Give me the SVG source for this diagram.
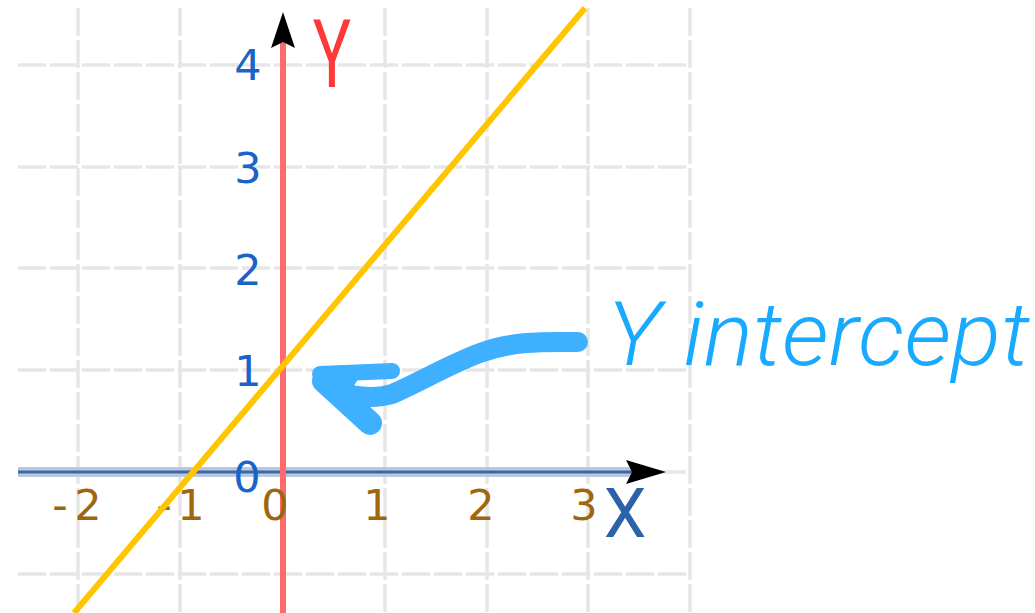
<svg xmlns="http://www.w3.org/2000/svg" width="1035" height="613" viewBox="0 0 1035 613">
<style>
.grid{stroke:#e6e6e6;stroke-width:3.5;stroke-dasharray:28 4;fill:none}
.ylab{font-family:"DejaVu Sans",sans-serif;font-size:43px;fill:#1a64c8;text-anchor:middle}
.xlab{font-family:"DejaVu Sans",sans-serif;font-size:43px;fill:#a0660e;text-anchor:middle}
.hand{stroke:#3eb0ff;fill:none;stroke-linecap:round;stroke-linejoin:round}
.thin{font-family:Roboto,"Liberation Sans",sans-serif;font-weight:300}
.axl{font-family:Roboto,"Liberation Sans",sans-serif;font-weight:400}
</style>
<rect width="1035" height="613" fill="#ffffff"/>
<g id="grid">
<line class="grid" x1="18" y1="65" x2="690" y2="65"/>
<line class="grid" x1="18" y1="167" x2="690" y2="167"/>
<line class="grid" x1="18" y1="268" x2="690" y2="268"/>
<line class="grid" x1="18" y1="370" x2="690" y2="370"/>
<line class="grid" x1="18" y1="472" x2="690" y2="472"/>
<line class="grid" x1="18" y1="574" x2="690" y2="574"/>
<line class="grid" x1="78" y1="8" x2="78" y2="613"/>
<line class="grid" x1="180" y1="8" x2="180" y2="613"/>
<line class="grid" x1="385" y1="8" x2="385" y2="613"/>
<line class="grid" x1="487" y1="8" x2="487" y2="613"/>
<line class="grid" x1="588" y1="8" x2="588" y2="613"/>
<line class="grid" x1="690" y1="8" x2="690" y2="613"/>
</g>
<g id="x-axis">
<line x1="18" y1="472" x2="632" y2="472" stroke="#bac8dd" stroke-width="10"/>
<line x1="18" y1="472" x2="635" y2="472" stroke="#3a68a8" stroke-width="3"/>
<path d="M666 472 L626 484 L632 472 L626 460 Z" fill="#000000"/>
<text class="axl" x="625" y="537" font-size="68" fill="#2c62a8" text-anchor="middle">X</text>
</g>
<g id="y-axis">
<line x1="283" y1="40" x2="283" y2="613" stroke="#ff6b6b" stroke-width="6"/>
<path d="M283 12 L295 48 L283 42 L271 48 Z" fill="#000000"/>
<text class="axl" transform="translate(332,87) scale(0.68,1)" x="0" y="0" font-size="94" fill="#ff3838" text-anchor="middle">Y</text>
</g>
<g id="y-labels">
<text class="ylab" x="248" y="80">4</text>
<text class="ylab" x="248" y="183">3</text>
<text class="ylab" x="248" y="285">2</text>
<text class="ylab" x="248" y="386">1</text>
<text class="ylab" x="247" y="492">0</text>
</g>
<g id="x-labels">
<text class="xlab" x="60 88" y="520">-2</text>
<text class="xlab" x="164 191" y="520">-1</text>
<text class="xlab" x="275" y="520">0</text>
<text class="xlab" x="377" y="520">1</text>
<text class="xlab" x="481" y="520">2</text>
<text class="xlab" x="584" y="520">3</text>
</g>
<g id="line">
<line x1="74" y1="613" x2="585" y2="8" stroke="#ffc600" stroke-width="6"/>
</g>
<g id="annotation">
<path class="hand" d="M578 342 C550 342 515 340 480 353 C450 364 420 382 392 394 C372 400 350 396 335 390" stroke-width="20"/>
<line class="hand" x1="320" y1="374" x2="392" y2="371" stroke-width="16"/>
<line class="hand" x1="324" y1="381" x2="370" y2="423" stroke-width="24"/>
<path d="M318 372 L360 376 L345 400 Z" fill="#3eb0ff"/>
<text class="thin" x="607" y="365" font-style="italic" font-size="88" fill="#18aaff" textLength="423" lengthAdjust="spacingAndGlyphs">Y intercept</text>
</g>
</svg>
